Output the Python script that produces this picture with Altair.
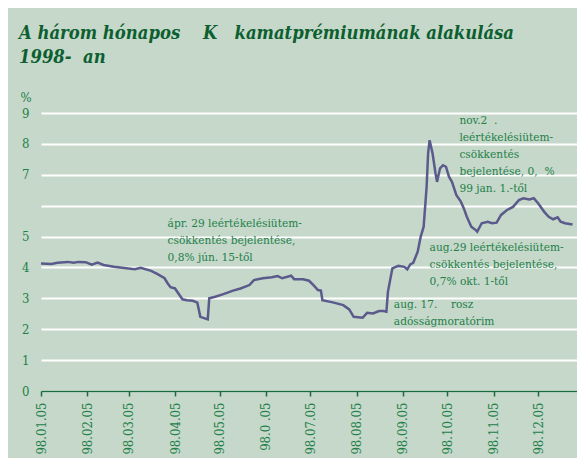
import altair as alt
import pandas as pd

# ---- data ----
dates = [
    "1998-01-05", "1998-01-12", "1998-01-16", "1998-01-23", "1998-01-27", "1998-01-30",
    "1998-02-04", "1998-02-08", "1998-02-12", "1998-02-16", "1998-02-23", "1998-03-02",
    "1998-03-09", "1998-03-13", "1998-03-20", "1998-03-24", "1998-03-29", "1998-03-31",
    "1998-04-02", "1998-04-05", "1998-04-08", "1998-04-10", "1998-04-13", "1998-04-17",
    "1998-04-20", "1998-04-22", "1998-04-27", "1998-04-28", "1998-05-02", "1998-05-07",
    "1998-05-14", "1998-05-19", "1998-05-25", "1998-05-28", "1998-06-03", "1998-06-09",
    "1998-06-13", "1998-06-16", "1998-06-22", "1998-06-24", "1998-06-30", "1998-07-04",
    "1998-07-07", "1998-07-10", "1998-07-12", "1998-07-13", "1998-07-20", "1998-07-27",
    "1998-07-31", "1998-08-03", "1998-08-09", "1998-08-12", "1998-08-16", "1998-08-20",
    "1998-08-23", "1998-08-25", "1998-08-26", "1998-08-29", "1998-09-02", "1998-09-06",
    "1998-09-08", "1998-09-10", "1998-09-12", "1998-09-15", "1998-09-17", "1998-09-19",
    "1998-09-21", "1998-09-22", "1998-09-23", "1998-09-25", "1998-09-27", "1998-09-28",
    "1998-09-30", "1998-10-02", "1998-10-04", "1998-10-06", "1998-10-08", "1998-10-11",
    "1998-10-14", "1998-10-16", "1998-10-18", "1998-10-21", "1998-10-24", "1998-10-25",
    "1998-10-28", "1998-11-01", "1998-11-04", "1998-11-07", "1998-11-10", "1998-11-14",
    "1998-11-18", "1998-11-22", "1998-11-25", "1998-11-29", "1998-12-02", "1998-12-05",
    "1998-12-09", "1998-12-12", "1998-12-15", "1998-12-18", "1998-12-20", "1998-12-23",
    "1998-12-28",
]
values = [
    4.13, 4.11, 4.15, 4.18, 4.15, 4.18,
    4.17, 4.09, 4.16, 4.08, 4.02, 3.98,
    3.94, 3.99, 3.89, 3.79, 3.65, 3.49,
    3.36, 3.32, 3.11, 2.97, 2.94, 2.92,
    2.86, 2.40, 2.32, 3.00, 3.05, 3.13,
    3.25, 3.32, 3.43, 3.59, 3.65, 3.68,
    3.72, 3.65, 3.73, 3.62, 3.62, 3.57,
    3.43, 3.27, 3.25, 2.94, 2.87, 2.78,
    2.64, 2.40, 2.37, 2.53, 2.51, 2.59,
    2.59, 2.57, 3.21, 3.97, 4.05, 4.02,
    3.94, 4.10, 4.15, 4.51, 4.99, 5.32,
    6.61, 7.69, 8.12, 7.69, 7.04, 6.77,
    7.21, 7.31, 7.26, 6.94, 6.77, 6.34,
    6.13, 5.91, 5.64, 5.32, 5.21, 5.16,
    5.43, 5.48, 5.43, 5.45, 5.70, 5.86,
    5.96, 6.18, 6.24, 6.20, 6.24, 6.07,
    5.80, 5.64, 5.56, 5.62, 5.48, 5.43,
    5.39,
]

tick_dates = [
    "1998-01-05", "1998-02-05", "1998-03-05", "1998-04-05", "1998-05-05", "1998-06-05",
    "1998-07-05", "1998-08-05", "1998-09-05", "1998-10-05", "1998-11-05", "1998-12-05",
]
tick_labels = [
    "98.01.05", "98.02.05", "98.03.05", "98.04.05", "98.05.05", "98.0 .05",
    "98.07.05", "98.08.05", "98.09.05", "98.10.05", "98.11.05", "98.12.05",
]
y_ticks = [0, 1, 2, 3, 4, 5, 6, 7, 8, 9]
y_hidden = 6

ann_dates = ["1998-03-31", "1998-10-13", "1998-09-23", "1998-08-30"]
ann_values = [5.32, 8.64, 4.54, 2.68]
ann_texts = [
    "ápr. 29 leértékelésiütem-\ncsökkentés bejelentése,\n0,8% jún. 15-től",
    "nov.2\u00a0\u00a0.\nleértékelésiütem-\ncsökkentés\nbejelentése, 0,\u00a0\u00a0%\n99 jan. 1.-től",
    "aug.29 leértékelésiütem-\ncsökkentés bejelentése,\n0,7% okt. 1-től",
    "aug. 17.\u00a0\u00a0\u00a0\u00a0rosz\nadósságmoratórim",
]

title_lines = [
    "A három hónapos\u00a0\u00a0\u00a0\u00a0K\u00a0\u00a0\u00a0kamatprémiumának alakulása",
    "1998-\u00a0\u00a0an",
]

# ---- styling ----
BG = "#c6d8c9"
TXT = "#22804a"
TITLE = "#0c5f30"
AXIS = "#1d6b3c"
LINE = "#5b5a8c"
FONT = "DejaVu Serif Condensed"

df = pd.DataFrame({"date": dates, "value": values})
ann = pd.DataFrame({"date": ann_dates, "value": ann_values, "text": ann_texts})


def dt(s):
    y, m, d = (int(p) for p in s.split("-"))
    return alt.DateTime(year=y, month=m, date=d, utc=True)


label_map = "{" + ",".join(f"'{d}':'{l}'" for d, l in zip(tick_dates, tick_labels)) + "}"
label_expr = f"{label_map}[utcFormat(datum.value, '%Y-%m-%d')]"

x_enc = alt.X(
    "date:T",
    scale=alt.Scale(type="utc", domain=[dt("1998-01-05"), dt("1998-12-31")]),
    axis=alt.Axis(
        values=[dt(d) for d in tick_dates],
        labelExpr=label_expr,
        labelAngle=-90,
        labelAlign="right",
        labelBaseline="middle",
        labelFont=FONT,
        labelFontSize=13,
        labelColor=TXT,
        labelPadding=6,
        labelOverlap=False,
        labelFlush=False,
        domainColor=AXIS,
        domainWidth=1.5,
        tickColor=AXIS,
        tickWidth=1.5,
        tickSize=5,
        grid=False,
        title=None,
    ),
)
y_enc = alt.Y(
    "value:Q",
    scale=alt.Scale(domain=[0, 9], nice=False, zero=True),
    axis=alt.Axis(
        values=y_ticks,
        labelExpr=f"datum.value == {y_hidden} ? '' : datum.label",
        labelFont=FONT,
        labelFontSize=13,
        labelColor=TXT,
        labelPadding=12,
        labelOverlap=False,
        grid=True,
        gridColor="white",
        gridWidth=2,
        domain=False,
        ticks=False,
        title="%",
        titleAngle=0,
        titleFont=FONT,
        titleFontSize=13,
        titleFontWeight="normal",
        titleColor=TXT,
        titleAlign="left",
        titleBaseline="alphabetic",
        titleX=-21,
        titleY=-12,
    ),
)

line = alt.Chart(df).mark_line(color=LINE, strokeWidth=2.5).encode(x=x_enc, y=y_enc)

texts = alt.Chart(ann).mark_text(
    align="left",
    baseline="alphabetic",
    lineBreak="\n",
    lineHeight=17,
    font=FONT,
    fontSize=11.8,
    color=TXT,
).encode(x=x_enc, y=y_enc, text="text:N")

chart = (
    alt.layer(line, texts)
    .properties(
        width=536,
        height=278,
        padding={"left": 33, "top": 105, "right": 0, "bottom": 67},
        autosize=alt.AutoSizeParams(type="none"),
        background=BG,
        title=alt.TitleParams(
            text=title_lines,
            anchor="start",
            frame="group",
            font=FONT,
            fontSize=18.3,
            fontStyle="italic",
            fontWeight="bold",
            color=TITLE,
            lineHeight=24,
            dx=-22,
            offset=24,
        ),
    )
    .configure_view(stroke=None)
)

chart.save("out.html", embed_options={"renderer": "svg", "actions": False})
